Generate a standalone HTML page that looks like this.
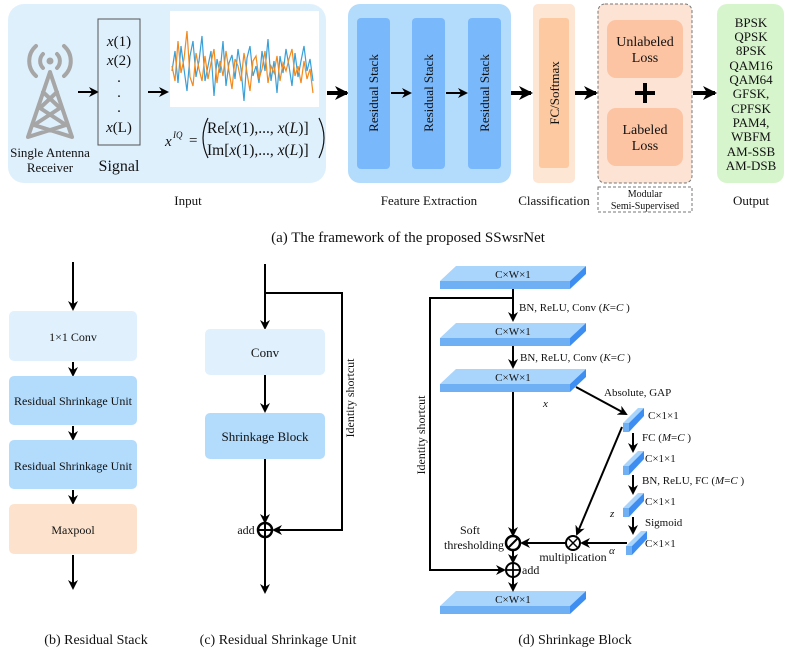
<!DOCTYPE html>
<html><head><meta charset="utf-8"><style>
html,body{margin:0;padding:0;background:#fff}
svg{display:block}
text{font-family:"Liberation Serif",serif;fill:#111}
</style></head><body>
<svg width="789" height="662" viewBox="0 0 789 662" xmlns="http://www.w3.org/2000/svg">
<defs>
<marker id="a" markerWidth="10" markerHeight="10" refX="8" refY="5" orient="auto" markerUnits="userSpaceOnUse"><path d="M0,0 L10,5 L0,10 L3,5 z" fill="#000"/></marker>
<marker id="b" markerWidth="14" markerHeight="14" refX="12" refY="7" orient="auto" markerUnits="userSpaceOnUse"><path d="M0,0 L14,7 L0,14 L4,7 z" fill="#000"/></marker>
<g id="slab"><polygon points="440,281 456,266 586,266 570,281" fill="#a9d4fb"/><rect x="440" y="281" width="130" height="8" fill="#6fb0f5"/><polygon points="570,281 586,266 586,274 570,289" fill="#3d8ef0"/></g>
<g id="ss"><polygon points="0,16 15,1 21,1 6,16" fill="#a9d4fb"/><rect x="0" y="16" width="6" height="9" fill="#6fb0f5"/><polygon points="6,16 21,1 21,9 6,25" fill="#3d8ef0"/></g>
</defs>

<!-- Input panel -->
<rect x="8" y="4" width="318" height="179" rx="16" fill="#dff0fd"/>
<g stroke="#a6a6a6" stroke-width="4" fill="none" stroke-linecap="round">
<path d="M50,72 L28,137 M50,72 L72,137 M43,92 L60,108 M57,92 L40,108 M40,108 L66,125 M60,108 L34,125 M34,125 L72,137 M66,125 L28,137"/>
<path d="M43,54 A10,10 0 0 0 43,68 M57,54 A10,10 0 0 1 57,68"/>
<path d="M36,46 A20,20 0 0 0 36,76 M64,46 A20,20 0 0 1 64,76"/>
</g>
<circle cx="50" cy="61" r="3.5" fill="#a6a6a6"/>
<text x="50" y="157" font-size="13" text-anchor="middle">Single Antenna</text>
<text x="50" y="172" font-size="13" text-anchor="middle">Receiver</text>
<line x1="78" y1="92" x2="97" y2="92" stroke="#000" stroke-width="2" marker-end="url(#a)"/>
<rect x="98" y="19" width="42" height="126" fill="none" stroke="#555" stroke-width="1"/>
<g font-size="15" text-anchor="middle">
<text x="119" y="46"><tspan font-style="italic">x</tspan>(1)</text>
<text x="119" y="65"><tspan font-style="italic">x</tspan>(2)</text>
<text x="119" y="82">.</text><text x="119" y="97">.</text><text x="119" y="112">.</text>
<text x="119" y="132"><tspan font-style="italic">x</tspan>(L)</text>
</g>
<text x="119" y="171" font-size="16" text-anchor="middle">Signal</text>
<line x1="148" y1="92" x2="167" y2="92" stroke="#000" stroke-width="2" marker-end="url(#a)"/>
<rect x="170" y="11" width="149" height="96" fill="#fff"/>
<polyline fill="none" stroke="#3aa0d8" stroke-width="1.2" points="172,71 175,51 178,83 181,46 184,69 187,91 190,56 193,41 196,77 199,61 202,36 205,81 208,66 211,51 214,96 217,59 220,73 223,41 226,86 229,63 232,55 235,79 238,49 241,69 244,101 247,58 250,46 253,76 256,66 259,83 262,51 265,71 268,39 271,81 274,61 277,93 280,56 283,73 286,49 289,66 292,86 295,53 298,77 301,61 304,46 307,71 310,59 313,81"/>
<polyline fill="none" stroke="#f28a1e" stroke-width="1.2" points="172,66 175,81 178,41 181,73 184,59 187,31 190,77 193,86 196,53 199,69 202,81 205,56 208,79 211,63 214,49 217,83 220,61 223,76 226,51 229,71 232,89 235,59 238,66 241,81 244,53 247,73 250,91 253,61 256,56 259,79 262,69 265,51 268,83 271,66 274,73 277,56 280,81 283,63 286,71 289,59 292,49 295,76 298,66 301,83 304,61 307,79 310,69 313,93"/>
<text x="165" y="146" font-size="15" font-style="italic">x</text>
<text x="173" y="138" font-size="9" font-style="italic">IQ</text>
<text x="189" y="145" font-size="15">=</text>
<path d="M208,118 Q198,138 208,158" fill="none" stroke="#111" stroke-width="1.2"/>
<path d="M319,118 Q329,138 319,158" fill="none" stroke="#111" stroke-width="1.2"/>
<text x="207" y="133" font-size="15.5">Re[<tspan font-style="italic">x</tspan>(1),..., <tspan font-style="italic">x</tspan>(<tspan font-style="italic">L</tspan>)]</text>
<text x="207" y="155" font-size="15.5">Im[<tspan font-style="italic">x</tspan>(1),..., <tspan font-style="italic">x</tspan>(<tspan font-style="italic">L</tspan>)]</text>
<text x="188" y="205" font-size="13" text-anchor="middle">Input</text>

<line x1="327" y1="93" x2="347" y2="93" stroke="#000" stroke-width="4" marker-end="url(#b)"/>
<!-- Feature extraction -->
<rect x="348" y="4" width="163" height="179" rx="12" fill="#b3dbfc"/>
<g fill="#79b8fb"><rect x="357" y="18" width="33" height="151" rx="4"/><rect x="412" y="18" width="33" height="151" rx="4"/><rect x="468" y="18" width="33" height="151" rx="4"/></g>
<g font-size="13" text-anchor="middle">
<text transform="translate(378,93) rotate(-90)">Residual Stack</text>
<text transform="translate(433,93) rotate(-90)">Residual Stack</text>
<text transform="translate(489,93) rotate(-90)">Residual Stack</text>
</g>
<line x1="391" y1="93" x2="410" y2="93" stroke="#000" stroke-width="2" marker-end="url(#a)"/>
<line x1="446" y1="93" x2="466" y2="93" stroke="#000" stroke-width="2" marker-end="url(#a)"/>
<text x="429" y="205" font-size="13" text-anchor="middle">Feature Extraction</text>

<line x1="511" y1="93" x2="531" y2="93" stroke="#000" stroke-width="4" marker-end="url(#b)"/>
<rect x="533" y="4" width="42" height="179" rx="5" fill="#fde6d4"/>
<rect x="539" y="18" width="30" height="150" rx="3" fill="#fcc9a0"/>
<text transform="translate(559,93) rotate(-90)" font-size="13" text-anchor="middle">FC/Softmax</text>
<text x="554" y="205" font-size="13" text-anchor="middle">Classification</text>

<line x1="575" y1="93" x2="596" y2="93" stroke="#000" stroke-width="4" marker-end="url(#b)"/>
<rect x="598" y="4" width="94" height="179" rx="7" fill="#fde3d4" stroke="#777" stroke-dasharray="3,2"/>
<rect x="607" y="20" width="76" height="58" rx="9" fill="#fcc4a3"/>
<rect x="607" y="108" width="76" height="58" rx="9" fill="#fcc4a3"/>
<g font-size="14" text-anchor="middle">
<text x="645" y="46">Unlabeled</text><text x="645" y="62">Loss</text>
<text x="645" y="134">Labeled</text><text x="645" y="150">Loss</text>
</g>
<path d="M645,83 V103 M635,93 H655" stroke="#000" stroke-width="4"/>
<rect x="598" y="187" width="94" height="25" fill="none" stroke="#777" stroke-dasharray="3,2"/>
<text x="645" y="197" font-size="10" text-anchor="middle">Modular</text>
<text x="645" y="209" font-size="10" text-anchor="middle">Semi-Supervised</text>

<line x1="693" y1="93" x2="715" y2="93" stroke="#000" stroke-width="4" marker-end="url(#b)"/>
<rect x="717" y="4" width="67" height="179" rx="10" fill="#d7f5cc"/>
<g font-size="13" text-anchor="middle">
<text x="751" y="27">BPSK</text><text x="751" y="41">QPSK</text><text x="751" y="55">8PSK</text><text x="751" y="70">QAM16</text><text x="751" y="84">QAM64</text><text x="751" y="98">GFSK,</text><text x="751" y="113">CPFSK</text><text x="751" y="127">PAM4,</text><text x="751" y="141">WBFM</text><text x="751" y="156">AM-SSB</text><text x="751" y="170">AM-DSB</text>
</g>
<text x="751" y="205" font-size="13" text-anchor="middle">Output</text>
<text x="408" y="242" font-size="15" text-anchor="middle">(a) The framework of the proposed SSwsrNet</text>

<!-- (b) -->
<line x1="73" y1="262" x2="73" y2="309" stroke="#000" stroke-width="2" marker-end="url(#a)"/>
<rect x="9" y="311" width="128" height="50" rx="5" fill="#e0f1fd"/>
<line x1="73" y1="362" x2="73" y2="375" stroke="#000" stroke-width="2" marker-end="url(#a)"/>
<rect x="9" y="376" width="128" height="49" rx="5" fill="#b3dbfc"/>
<line x1="73" y1="426" x2="73" y2="439" stroke="#000" stroke-width="2" marker-end="url(#a)"/>
<rect x="9" y="440" width="128" height="49" rx="5" fill="#b3dbfc"/>
<line x1="73" y1="490" x2="73" y2="503" stroke="#000" stroke-width="2" marker-end="url(#a)"/>
<rect x="9" y="504" width="128" height="50" rx="5" fill="#fde3cd"/>
<line x1="73" y1="555" x2="73" y2="588" stroke="#000" stroke-width="2" marker-end="url(#a)"/>
<g font-size="12" text-anchor="middle">
<text x="73" y="341">1×1 Conv</text>
<text x="73" y="405">Residual Shrinkage Unit</text>
<text x="73" y="470">Residual Shrinkage Unit</text>
<text x="73" y="534">Maxpool</text>
</g>
<text x="96" y="644" font-size="14" text-anchor="middle">(b) Residual Stack</text>

<!-- (c) -->
<line x1="265" y1="264" x2="265" y2="328" stroke="#000" stroke-width="2" marker-end="url(#a)"/>
<rect x="205" y="329" width="120" height="46" rx="5" fill="#e0f1fd"/>
<line x1="265" y1="375" x2="265" y2="411" stroke="#000" stroke-width="2" marker-end="url(#a)"/>
<rect x="205" y="413" width="120" height="46" rx="5" fill="#b3dbfc"/>
<text x="265" y="357" font-size="13" text-anchor="middle">Conv</text>
<text x="265" y="441" font-size="13" text-anchor="middle">Shrinkage Block</text>
<line x1="265" y1="459" x2="265" y2="522" stroke="#000" stroke-width="2" marker-end="url(#a)"/>
<polyline points="265,293 342,293 342,530 274,530" fill="none" stroke="#000" stroke-width="2" marker-end="url(#a)"/>
<circle cx="265" cy="530" r="7" fill="none" stroke="#000" stroke-width="2.5"/>
<path d="M258,530 H272 M265,523 V537" stroke="#000" stroke-width="2"/>
<text x="246" y="534" font-size="12" text-anchor="middle">add</text>
<text transform="translate(354,398) rotate(-90)" font-size="12" text-anchor="middle">Identity shortcut</text>
<line x1="265" y1="537" x2="265" y2="592" stroke="#000" stroke-width="2" marker-end="url(#a)"/>
<text x="278" y="644" font-size="14" text-anchor="middle">(c) Residual Shrinkage  Unit</text>

<!-- (d) -->
<use href="#slab"/>
<use href="#slab" transform="translate(0,57)"/>
<use href="#slab" transform="translate(0,103)"/>
<use href="#slab" transform="translate(0,325)"/>
<g font-size="11" text-anchor="middle">
<text x="513" y="278">C×W×1</text><text x="513" y="335">C×W×1</text><text x="513" y="381">C×W×1</text><text x="513" y="603">C×W×1</text>
</g>
<line x1="513" y1="289" x2="513" y2="320" stroke="#000" stroke-width="2" marker-end="url(#a)"/>
<line x1="513" y1="346" x2="513" y2="367" stroke="#000" stroke-width="2" marker-end="url(#a)"/>
<g font-size="11">
<text x="519" y="311">BN, ReLU, Conv (<tspan font-style="italic">K</tspan>=<tspan font-style="italic">C</tspan> )</text>
<text x="520" y="361">BN, ReLU, Conv (<tspan font-style="italic">K</tspan>=<tspan font-style="italic">C</tspan> )</text>
<text x="604" y="396">Absolute, GAP</text>
<text x="642" y="441">FC (<tspan font-style="italic">M</tspan>=<tspan font-style="italic">C</tspan> )</text>
<text x="642" y="484">BN, ReLU, FC (<tspan font-style="italic">M</tspan>=<tspan font-style="italic">C</tspan> )</text>
<text x="645" y="526">Sigmoid</text>
<text x="648" y="419">C×1×1</text><text x="645" y="462">C×1×1</text><text x="645" y="505">C×1×1</text><text x="645" y="547">C×1×1</text>
<text x="543" y="407" font-style="italic">x</text>
<text x="610" y="517" font-style="italic">z</text>
<text x="609" y="554" font-style="italic">α</text>
</g>
<polyline points="513,298 430,298 430,570 504,570" fill="none" stroke="#000" stroke-width="2" marker-end="url(#a)"/>
<text transform="translate(425,435) rotate(-90)" font-size="12" text-anchor="middle">Identity shortcut</text>
<line x1="513" y1="392" x2="513" y2="535" stroke="#000" stroke-width="2" marker-end="url(#a)"/>
<line x1="576" y1="387" x2="626" y2="414" stroke="#000" stroke-width="2" marker-end="url(#a)"/>
<use href="#ss" transform="translate(623,407)"/>
<use href="#ss" transform="translate(623,450)"/>
<use href="#ss" transform="translate(623,492)"/>
<use href="#ss" transform="translate(626,530)"/>
<line x1="633" y1="433" x2="633" y2="451" stroke="#000" stroke-width="2" marker-end="url(#a)"/>
<line x1="633" y1="475" x2="633" y2="493" stroke="#000" stroke-width="2" marker-end="url(#a)"/>
<line x1="633" y1="517" x2="633" y2="533" stroke="#000" stroke-width="2" marker-end="url(#a)"/>
<line x1="622" y1="427" x2="577" y2="534" stroke="#000" stroke-width="2" marker-end="url(#a)"/>
<line x1="627" y1="543" x2="582" y2="543" stroke="#000" stroke-width="2" marker-end="url(#a)"/>
<circle cx="573" cy="543" r="7" fill="#fff" stroke="#000" stroke-width="2"/>
<path d="M568,538 L578,548 M578,538 L568,548" stroke="#000" stroke-width="1.5"/>
<line x1="566" y1="543" x2="522" y2="543" stroke="#000" stroke-width="2" marker-end="url(#a)"/>
<circle cx="513" cy="543" r="7" fill="#fff" stroke="#000" stroke-width="2.5"/>
<line x1="508" y1="548" x2="518" y2="538" stroke="#000" stroke-width="2"/>
<line x1="513" y1="550" x2="513" y2="562" stroke="#000" stroke-width="2" marker-end="url(#a)"/>
<circle cx="513" cy="570" r="7" fill="#fff" stroke="#000" stroke-width="2"/>
<path d="M506,570 H520 M513,563 V577" stroke="#000" stroke-width="1.8"/>
<line x1="513" y1="577" x2="513" y2="590" stroke="#000" stroke-width="2" marker-end="url(#a)"/>
<g font-size="12">
<text x="470" y="534" text-anchor="middle">Soft</text>
<text x="504" y="549" text-anchor="end">thresholding</text>
<text x="573" y="561" text-anchor="middle">multiplication</text>
<text x="522" y="574">add</text>
</g>
<text x="575" y="644" font-size="14" text-anchor="middle">(d) Shrinkage Block</text>
</svg>
</body></html>
